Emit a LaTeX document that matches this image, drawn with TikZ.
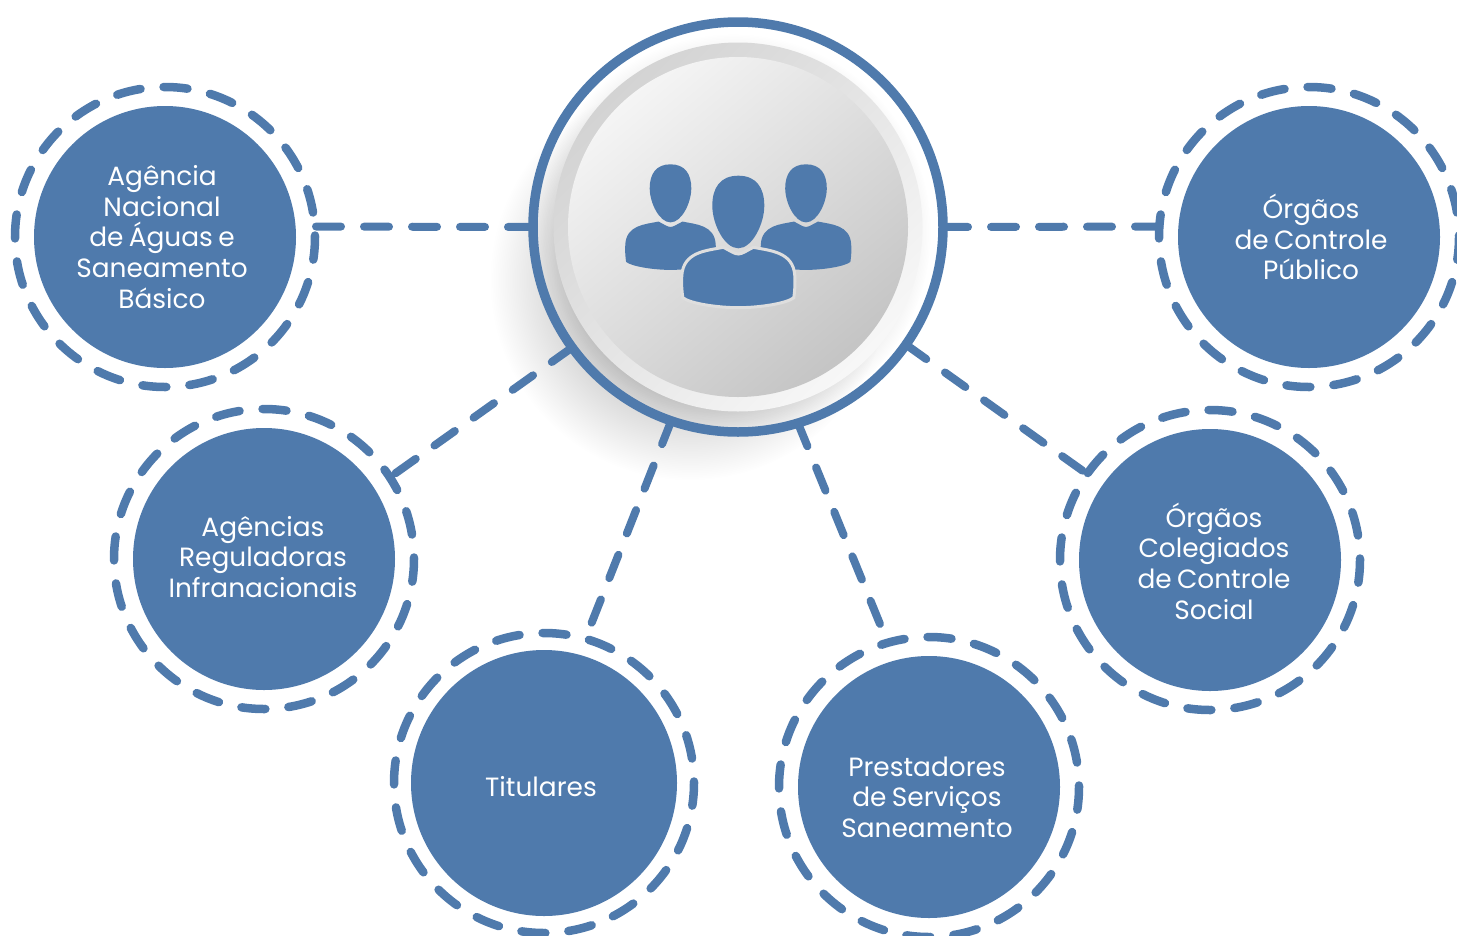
\documentclass[tikz,border=0pt]{standalone}
\usepackage{fontspec}
\setmainfont[WordSpace=0.75]{Poppins}
\usetikzlibrary{fadings}

\definecolor{steel}{HTML}{4F7AAC}
\definecolor{hubgap}{HTML}{DEDEDE}

\tikzstyle{disc} = [circle, fill=steel, minimum size=262pt, inner sep=0pt]
\tikzstyle{caption} = [text=white, inner sep=0pt, align=center, font=\fontsize{26.4}{30.6}\selectfont]
\tikzstyle{ring} = [circle, draw=steel, line width=8.5pt, minimum size=300pt, inner sep=0pt, outer sep=0pt,
    line cap=round, dash pattern=on 24pt off 23.12pt, dash phase=22.5pt]
\tikzstyle{link} = [draw=steel, line width=8pt, line cap=round, dash pattern=on 25pt off 23pt]
\tikzstyle{hub} = [circle, fill=white, minimum size=410pt, inner sep=0pt, outer sep=0pt]

\tikzfading[name=hubfade, inner color=transparent!55, outer color=transparent!100]
\tikzfading[name=halofade, inner color=transparent!45, outer color=transparent!100]

\tikzset{
    pics/person/.style={code={
        \path[fill=steel, draw=#1, line width=3pt] (-15,-71.6) .. controls (-8,-75) and (-4,-78.3) .. (0,-78.3)
            .. controls (4,-78.3) and (8,-75) .. (15,-71.6)
            .. controls (32,-75) and (55,-76) .. (56.5,-100)
            .. controls (57,-108) and (56.5,-115) .. (55.5,-122)
            .. controls (48,-128) and (20,-132) .. (0,-132)
            .. controls (-20,-132) and (-48,-128) .. (-55.5,-122)
            .. controls (-56.5,-115) and (-57,-108) .. (-56.5,-100)
            .. controls (-55,-76) and (-32,-75) .. (-15,-71.6) -- cycle;
        \fill[steel] (0,0) .. controls (-18,0) and (-26,-12) .. (-26,-30)
            .. controls (-26,-48) and (-14,-72.6) .. (0,-72.6)
            .. controls (14,-72.6) and (26,-48) .. (26,-30)
            .. controls (26,-12) and (18,0) .. (0,0) -- cycle;
    }}
}

\begin{document}
\begin{tikzpicture}[x=1pt, y=1pt]
\useasboundingbox (0,0) rectangle (1457,-935);

\node[hub] (hub) at (738,-227) {};

% soft shadow
\fill[black, path fading=hubfade, fit fading=true] (690,-280) circle (200);
\fill[black, path fading=halofade, fit fading=true] (733,-232) circle (198);

% connectors
\node[ring] (ana) at (165,-237) {};
\node[ring] (agencias) at (264,-559) {};
\node[ring] (titulares) at (544,-783) {};
\node[ring] (prestadores) at (929,-787) {};
\node[ring] (colegiados) at (1210,-560) {};
\node[ring] (publico) at (1309,-237) {};

\draw[link] (hub.180) -- (ana.4);
\draw[link] (hub.216) -- (agencias.33.7);
\draw[link] (hub.251.6) -- (titulares.74);
\draw[link] (hub.287.7) -- (prestadores.106.7);
\draw[link] (hub.325.4) -- (colegiados.145);
\draw[link] (hub.0) -- (publico.176);

\node[disc] (anadisc) at (ana) {};
\node[disc] (agenciasdisc) at (agencias) {};
\node[disc, minimum size=266pt] (titularesdisc) at (titulares) {};
\node[disc] (prestadoresdisc) at (prestadores) {};
\node[disc] (colegiadosdisc) at (colegiados) {};
\node[disc] (publicodisc) at (publico) {};

\node[caption] (anatext) at (162,-237) {Agência\\Nacional\\de Águas e\\Saneamento\\Básico};
\node[caption] (agenciastext) at (263,-557) {Agências\\Reguladoras\\Infranacionais};
\node[caption] (titularestext) at (541,-787) {Titulares};
\node[caption] (prestadorestext) at (927,-797) {Prestadores\\de Serviços\\Saneamento};
\node[caption] (colegiadostext) at (1214,-561) {Órgãos\\Colegiados\\de Controle\\Social};
\node[caption] (publicotext) at (1311,-237) {Órgãos\\de Controle\\Público};

\draw[steel, line width=9.5pt] (hub.center) circle (205);

\shade[top color=hubgap!95!black, bottom color=white!97!black, shading angle=45] (hub.center) circle (184.5);
\shade[top color=white!96!black, bottom color=white!77!black, shading angle=40] (hub.center) circle (170);

% people
\pic[scale=.8] at (670.5,-164.3) {person=none};
\pic[scale=.8] at (806,-164.3) {person=none};
\pic at (738.3,-175.7) {person=hubgap};
\end{tikzpicture}
\end{document}
